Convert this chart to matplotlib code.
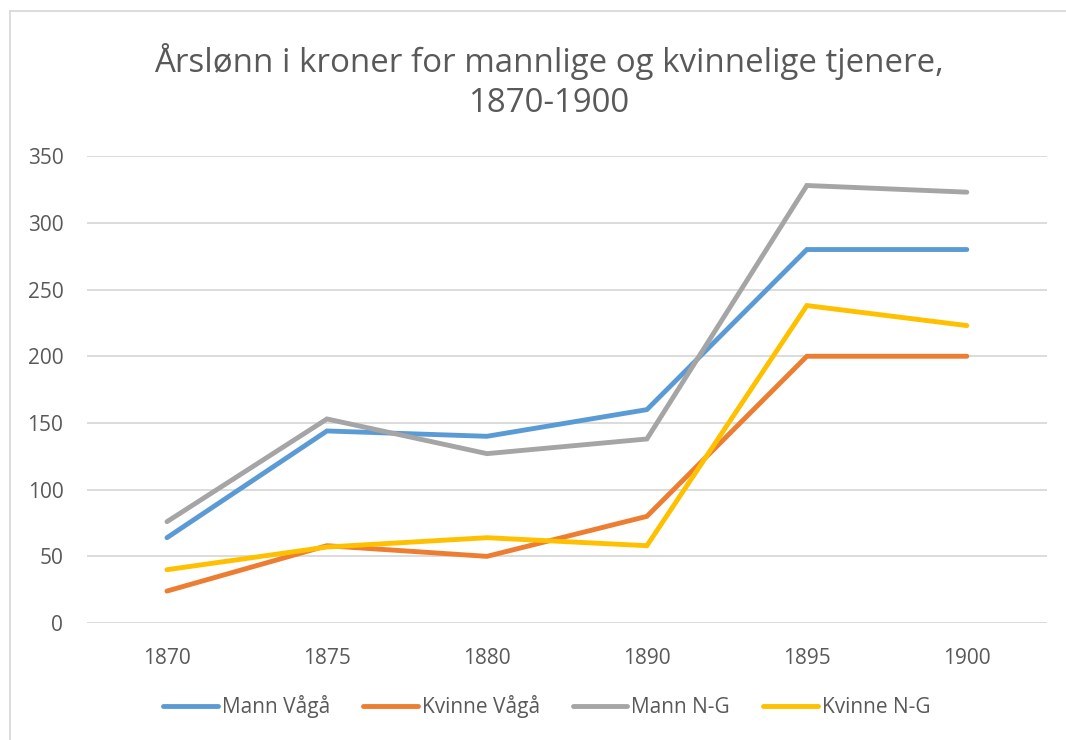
import matplotlib.pyplot as plt
from matplotlib.lines import Line2D

# Data
years = ["1870", "1875", "1880", "1890", "1895", "1900"]
mann_vaga = [64, 144, 140, 160, 280, 280]
kvinne_vaga = [24, 58, 50, 80, 200, 200]
mann_ng = [76, 153, 127, 138, 328, 323]
kvinne_ng = [40, 57, 64, 58, 238, 223]

series = [
    ("Mann Vågå", mann_vaga, "#5B9BD5"),
    ("Kvinne Vågå", kvinne_vaga, "#ED7D31"),
    ("Mann N-G", mann_ng, "#A5A5A5"),
    ("Kvinne N-G", kvinne_ng, "#FFC000"),
]

plt.rcParams["font.family"] = ["Open Sans", "DejaVu Sans"]
text_color = "#595959"

fig = plt.figure(figsize=(10.66, 7.40), dpi=100)
ax = fig.add_axes([0.0816, 0.158, 0.9004, 0.631])

x = range(len(years))
for name, vals, color in series:
    ax.plot(x, vals, color=color, linewidth=3.5, label=name,
            solid_capstyle="round", solid_joinstyle="miter")

ax.set_xlim(-0.5, len(years) - 0.5)
ax.set_ylim(0, 350)
ax.set_yticks(range(0, 351, 50))
ax.set_xticks(list(x))
ax.set_xticklabels(years)
ax.grid(axis="y", color="#D9D9D9", linewidth=1.3)
ax.set_axisbelow(True)
for s in ax.spines.values():
    s.set_visible(False)
ax.tick_params(length=0, labelsize=15, labelcolor=text_color)
ax.tick_params(axis="x", pad=18)
ax.tick_params(axis="y", pad=17)

fig.text(0.515, 0.89, "Årslønn i kroner for mannlige og kvinnelige tjenere,\n1870-1900",
         ha="center", va="center", fontsize=23.8, color=text_color, linespacing=1.25)

handles = [Line2D([], [], color=c, linewidth=3.5, solid_capstyle="round") for _, _, c in series]
fig.legend(handles, [n for n, _, _ in series], loc="center", bbox_to_anchor=(0.513, 0.045),
           ncol=4, frameon=False, fontsize=15, labelcolor=text_color,
           handlelength=2.6, handletextpad=0.2, columnspacing=1.6)

# chart border (partly cropped in the reference)
fig.add_artist(Line2D([10 / 1066, 1], [1 - 11 / 740, 1 - 11 / 740], color="#D9D9D9", linewidth=1.3))
fig.add_artist(Line2D([10 / 1066, 10 / 1066], [0, 1 - 11 / 740], color="#D9D9D9", linewidth=1.3))

fig.savefig("out.png", dpi=100)
